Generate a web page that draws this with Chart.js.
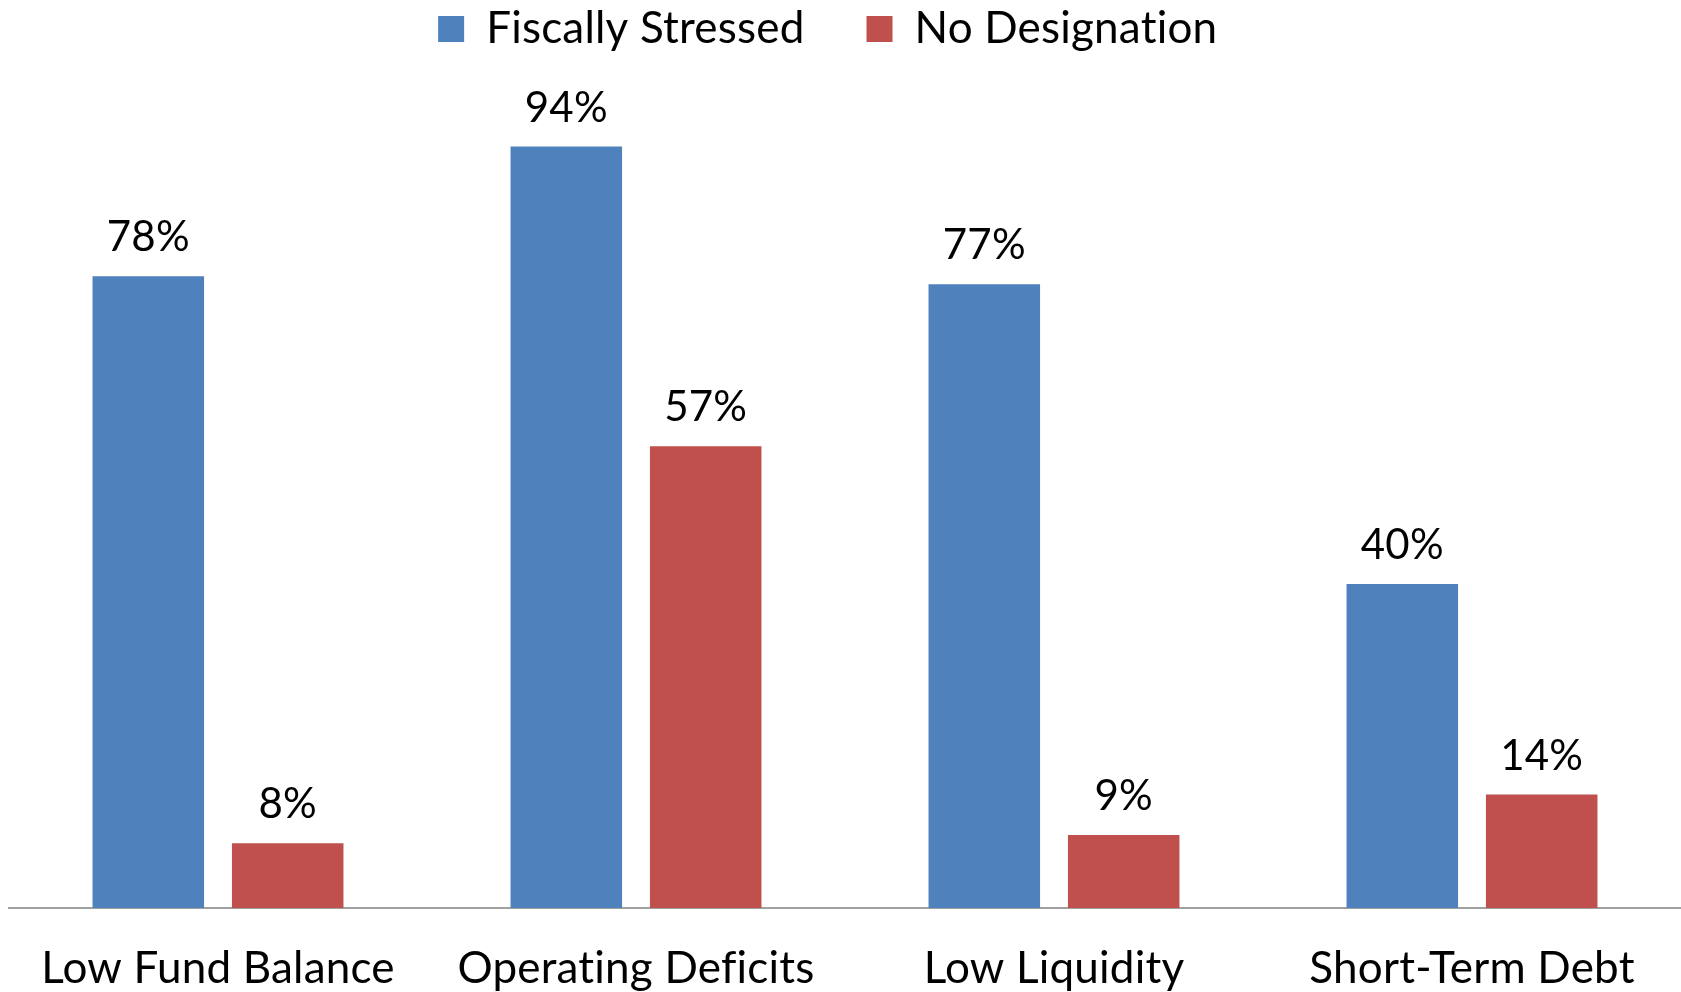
<!DOCTYPE html>
<html>
<head>
<meta charset="utf-8">
<script src="https://cdn.jsdelivr.net/npm/chart.js@4.4.1/dist/chart.umd.min.js"></script>
<style>
html,body{margin:0;padding:0;background:#fff;}
#wrap{width:1681px;height:992px;position:relative;}
</style>
</head>
<body>
<div id="wrap"><canvas id="c"></canvas></div>
<script>
const categories = ['Low Fund Balance', 'Operating Deficits', 'Low Liquidity', 'Short-Term Debt'];
const fiscallyStressed = [78, 94, 77, 40];
const noDesignation = [8, 57, 9, 14];
const seriesNames = ['Fiscally Stressed', 'No Designation'];

const FONT = 'Lato';
const FS_LABEL = 42;
const FS_AXIS = 44;
const TOP_SHIFT = 55;

const valueLabels = {
  id: 'valueLabels',
  afterDatasetsDraw(chart) {
    const ctx = chart.ctx;
    ctx.save();
    ctx.font = FS_LABEL + 'px ' + FONT;
    ctx.fillStyle = '#000';
    ctx.textAlign = 'center';
    ctx.textBaseline = 'alphabetic';
    chart.data.datasets.forEach((ds, i) => {
      chart.getDatasetMeta(i).data.forEach((el, j) => {
        ctx.fillText(ds.data[j] + '%', el.x, el.y - 25);
      });
    });
    ctx.restore();
  }
};

const legendSize = {
  id: 'legendSize',
  afterInit(chart) {
    const lg = chart.legend;
    if (!lg) return;
    const orig = lg.fit;
    lg.fit = function () {
      orig.call(this);
      this.height = 98 + TOP_SHIFT;
    };
  },
  afterLayout(chart) {
    const lg = chart.legend;
    if (!lg) return;
    lg.left -= 20;
    lg.right -= 20;
  },
  beforeDraw(chart) {
    // non-zero letter spacing turns off the "ti" ligature, as in the reference
    if ('letterSpacing' in chart.ctx) chart.ctx.letterSpacing = '0.2px';
  }
};

new Chart(document.getElementById('c'), {
  type: 'bar',
  data: {
    labels: categories,
    datasets: [
      { label: seriesNames[0], data: fiscallyStressed, backgroundColor: '#4F81BD' },
      { label: seriesNames[1], data: noDesignation, backgroundColor: '#C0504D' }
    ]
  },
  options: {
    responsive: true,
    maintainAspectRatio: false,
    animation: false,
    categoryPercentage: 0.667,
    barPercentage: 0.8,
    layout: { padding: { left: 9, right: 0, top: -TOP_SHIFT, bottom: 0 } },
    plugins: {
      legend: {
        position: 'top',
        labels: {
          font: { family: FONT, size: FS_AXIS },
          color: '#000',
          boxWidth: 26,
          boxHeight: 26,
          padding: 62
        }
      },
      tooltip: { enabled: false }
    },
    scales: {
      x: {
        grid: { display: false, drawTicks: false },
        border: { display: true, color: '#A0A0A0', width: 2 },
        ticks: { font: { family: FONT, size: FS_AXIS, lineHeight: 1.2 }, color: '#000', padding: 34 },
        afterFit(s) { s.height = 84; }
      },
      y: { display: false, min: 0, max: 100 }
    }
  },
  plugins: [valueLabels, legendSize]
});
</script>
</body>
</html>
